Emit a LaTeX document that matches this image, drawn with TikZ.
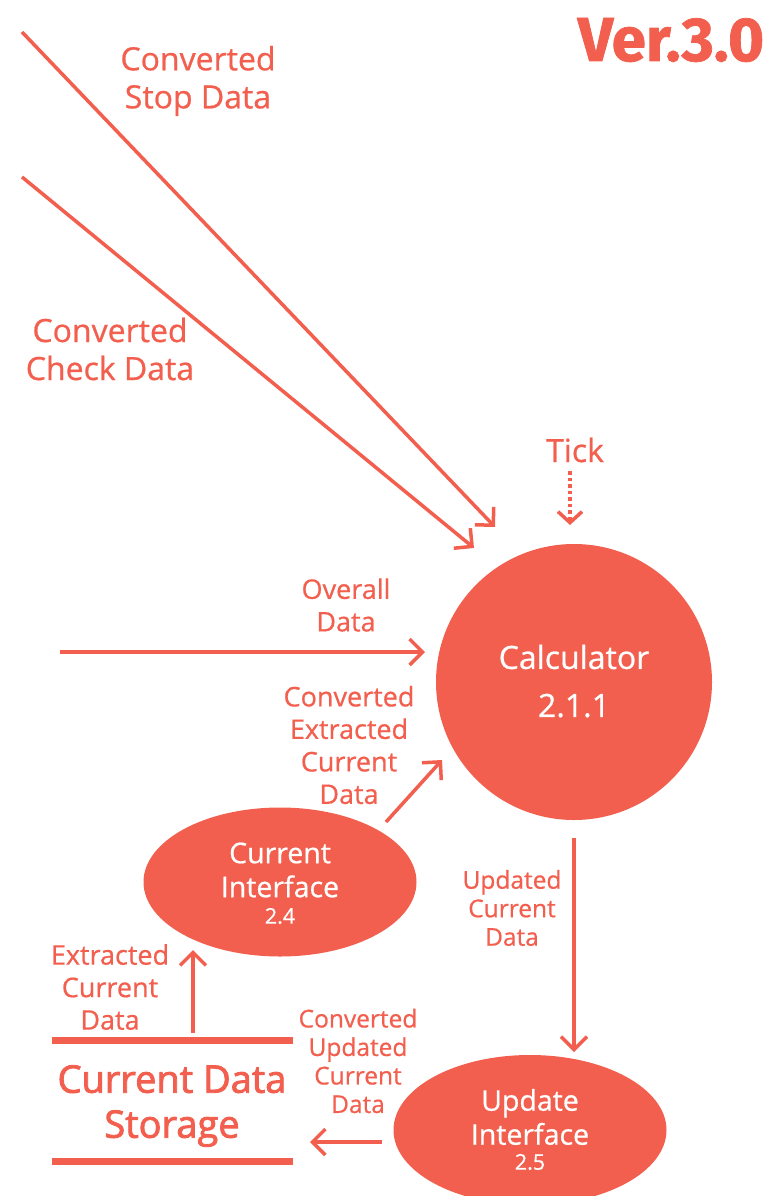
\documentclass[tikz,border=0pt]{standalone}
\usepackage{fontspec}
\setmainfont{Open Sans}[FakeBold=0.7]
\newfontfamily\heavyfont{Open Sans}[FakeBold=2.2]
\newfontfamily\verfont{Fira Sans}[FakeBold=1.2]
\usetikzlibrary{arrows.meta,shapes.geometric}
\definecolor{dfd}{HTML}{F35F4E}
\tikzset{
  flow/.style={draw=dfd, line width=3.5pt, -{Straight Barb[length=13pt,width=26pt,line width=3.5pt]}},
  lbl/.style={text=dfd, align=center, inner sep=0pt, font=\fontsize{32}{38}\selectfont},
  slbl/.style={text=dfd, align=center, inner sep=0pt, font=\fontsize{27}{32.5}\selectfont},
  xslbl/.style={text=dfd, align=center, inner sep=0pt, font=\fontsize{24.5}{28.5}\selectfont},
  proc/.style={fill=dfd, draw=none, text=white, align=center, inner sep=0pt},
  store/.style={draw=dfd, line width=7pt},
}
\begin{document}
\begin{tikzpicture}[x=1pt,y=-1pt]
\useasboundingbox (0,0) rectangle (769,1196);
% processes
\node[proc, circle, minimum size=276pt] (calc) at (574,682) {};
\node[text=white, align=center, font=\fontsize{32}{48}\selectfont] (calct) at (574,681) {Calculator\\2.1.1};
\node[proc, ellipse, minimum width=273pt, minimum height=149pt] (ci) at (280,882) {};
\node[text=white, align=center, inner sep=0pt, font=\fontsize{28.5}{34}\selectfont] (cit) at (280,870) {Current\\Interface};
\node[text=white, inner sep=0pt, font=\fontsize{21.5}{22}\selectfont] (cin) at (280,916) {2.4};
\node[proc, ellipse, minimum width=273pt, minimum height=150pt] (ui) at (530,1130) {};
\node[text=white, align=center, inner sep=0pt, font=\fontsize{28.5}{34}\selectfont] (uit) at (530,1117) {Update\\Interface};
\node[text=white, inner sep=0pt, font=\fontsize{21.5}{22}\selectfont] (uin) at (530,1162) {2.5};
% storage
\coordinate (s1a) at (52,1040); \coordinate (s1b) at (293,1040);
\coordinate (s2a) at (52,1161); \coordinate (s2b) at (293,1161);
\draw[store] (s1a) -- (s1b);
\draw[store] (s2a) -- (s2b);
\node[text=dfd, align=center, inner sep=0pt, font=\heavyfont\fontsize{38}{45}\selectfont] (storage) at (172,1106) {Current Data\\Storage};
% version
\node[text=dfd, inner sep=0pt, font=\verfont\bfseries\fontsize{62}{62}\selectfont] (ver) at (671,40) {Ver.3.0};
% free ends
\coordinate (stopS) at (22,32); \coordinate (stopE) at (495,527);
\coordinate (chkS) at (22,177); \coordinate (chkE) at (474,548);
\coordinate (ovS) at (60,652); \coordinate (ovE) at (425,652);
\coordinate (tickS) at (570,471); \coordinate (tickE) at (570,525);
\coordinate (ceS) at (386,822); \coordinate (ceE) at (442,760);
\coordinate (exS) at (193,1033); \coordinate (exE) at (193,950);
\coordinate (upS) at (574,838); \coordinate (upE) at (574,1052);
\coordinate (cuS) at (382,1142); \coordinate (cuE) at (310,1142);
% flows
\draw[flow] (stopS) -- (stopE);
\draw[flow] (chkS) -- (chkE);
\draw[flow] (ovS) -- (ovE);
\draw[flow, dash pattern=on 3.5pt off 3pt, -{Straight Barb[length=11pt,width=24pt,line width=3.5pt]}] (tickS) -- (tickE);
\draw[flow] (ceS) -- (ceE);
\draw[flow] (exS) -- (exE);
\draw[flow] (upS) -- (upE);
\draw[flow] (cuS) -- (cuE);
% labels
\node[lbl] (lstop) at (198,81) {Converted\\Stop Data};
\node[lbl] (lchk) at (110,349) {Converted\\Check Data};
\node[lbl] (ltick) at (575,450) {Tick};
\node[slbl] (lov) at (346,605) {Overall\\Data};
\node[slbl] (lce) at (349,745) {Converted\\Extracted\\Current\\Data};
\node[slbl] (lex) at (110,987) {Extracted\\Current\\Data};
\node[xslbl] (lup) at (512,908) {Updated\\Current\\Data};
\node[xslbl] (lcu) at (358,1061) {Converted\\Updated\\Current\\Data};
\end{tikzpicture}
\end{document}
